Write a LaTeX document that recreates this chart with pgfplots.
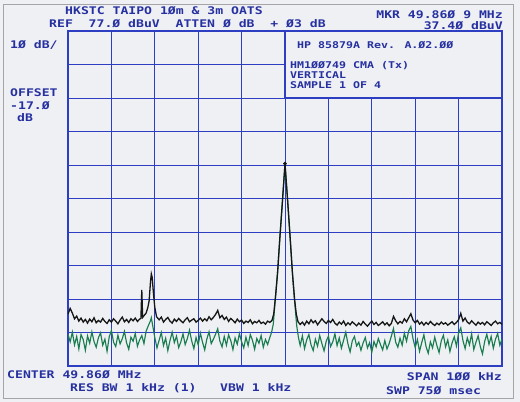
\documentclass[border=0pt]{standalone}
\usepackage{pgfplots}
\pgfplotsset{compat=1.18}
\usepackage{fontspec}
\newfontfamily\prt{DejaVu Sans Mono}[FakeStretch=1.25]

\definecolor{paper}{RGB}{238,240,243}
\definecolor{edge}{RGB}{165,165,168}
\definecolor{gridblue}{RGB}{45,62,195}
\definecolor{inkblue}{RGB}{38,48,160}
\definecolor{trgreen}{RGB}{25,125,80}
\definecolor{trblack}{RGB}{22,22,22}

\begin{document}
\begin{tikzpicture}[x=1pt,y=1pt,
  lbl/.style={anchor=base west,inner sep=0pt,text=inkblue,font=\prt\bfseries\fontsize{10.5}{12}\selectfont},
  lblr/.style={lbl,anchor=base east},
  lbls/.style={lbl,font=\prt\bfseries\fontsize{9.3}{11}\selectfont}]

\fill[paper] (0,0) rectangle (520,402);
\draw[edge,line width=0.8pt] (3,4) rectangle (513,398);

\begin{axis}[
at={(68pt,36pt)}, anchor=south west,
scale only axis, width=434pt, height=335pt,
xmin=-50, xmax=50, ymin=-23, ymax=77,
xtick={-50,-40,...,50}, ytick={-23,-13,...,77},
xticklabels={}, yticklabels={},
major tick length=0pt,
grid=major,
grid style={gridblue, line width=0.95pt},
axis line style={gridblue, line width=1.2pt},
clip=true
]
% green trace (lower)
\addplot[trgreen, line width=1.15pt] coordinates {
(-50,-13.5) (-49.5,-15.8) (-49,-12.9) (-48.5,-16.7) (-48,-14.2) (-47.5,-17.9) (-47,-13.6) (-46.5,-15.1)
(-46,-18.3) (-45.5,-14.0) (-45,-16.2) (-44.5,-12.8) (-44,-15.7) (-43.5,-17.4) (-43,-14.6) (-42.5,-13.1)
(-42,-16.8) (-41.5,-15.0) (-41,-18.6) (-40.5,-14.3) (-40,-12.4) (-39.5,-15.9) (-39,-17.2) (-38.5,-13.8)
(-38,-16.4) (-37.5,-14.9) (-37,-12.7) (-36.5,-16.1) (-36,-18.0) (-35.5,-14.4) (-35,-15.6) (-34.5,-13.3)
(-34,-17.1) (-33.5,-15.2) (-33,-13.9) (-32.5,-16.3) (-32,-12.6) (-31.5,-11.0) (-31,-9.5) (-30.8,-8.6)
(-30.5,-10.8) (-30,-14.5) (-29.5,-17.6) (-29,-15.3) (-28.5,-13.0) (-28,-16.9) (-27.5,-14.7) (-27,-18.4)
(-26.5,-15.4) (-26,-12.9) (-25.5,-16.0) (-25,-14.1) (-24.5,-17.5) (-24,-15.8) (-23.5,-13.4) (-23,-16.6)
(-22.5,-14.8) (-22,-12.3) (-21.5,-15.5) (-21,-17.8) (-20.5,-14.5) (-20,-16.7) (-19.5,-13.2) (-19,-15.9)
(-18.5,-18.2) (-18,-14.9) (-17.5,-12.8) (-17,-16.3) (-16.5,-15.0) (-16,-13.5) (-15.5,-11.9) (-15,-15.6)
(-14.5,-17.3) (-14,-14.2) (-13.5,-16.8) (-13,-13.7) (-12.5,-15.4) (-12,-18.1) (-11.5,-14.6) (-11,-16.5)
(-10.5,-13.3) (-10,-15.8) (-9.5,-17.6) (-9,-14.4) (-8.5,-16.9) (-8,-13.6) (-7.5,-15.3) (-7,-18.0)
(-6.5,-14.8) (-6,-16.2) (-5.5,-13.9) (-5,-17.4) (-4.5,-15.1) (-4,-16.6) (-3.5,-14.5) (-3.1,-13.0)
(-2.7,-10.5) (-2.3,-4) (-1.8,3.5) (-1.2,15) (-0.6,26) (0,37.4) (0.6,26.5) (1.2,15) (1.8,3) (2.3,-5)
(2.7,-11) (3.1,-14.5)
(3.5,-16.9) (4,-14.0) (4.5,-17.8) (5,-15.2) (5.5,-13.6) (6,-16.7) (6.5,-18.4) (7,-15.0)
(7.5,-17.1) (8,-13.9) (8.5,-16.3) (9,-18.5) (9.5,-15.6) (10,-14.1) (10.5,-17.2) (11,-15.8)
(11.5,-13.4) (12,-16.9) (12.5,-14.6) (13,-17.7) (13.5,-15.3) (14,-12.9) (14.5,-16.4) (15,-18.8)
(15.5,-15.5) (16,-14.2) (16.5,-17.0) (17,-15.9) (17.5,-18.3) (18,-16.1) (18.5,-14.5) (19,-17.6)
(19.5,-16.0) (20,-18.9) (20.5,-15.7) (21,-17.3) (21.5,-14.8) (22,-16.6) (22.5,-18.2) (23,-15.4)
(23.5,-17.9) (24,-16.3) (24.5,-14.1) (25,-11.8) (25.5,-15.9) (26,-17.4) (26.5,-14.7) (27,-16.8)
(27.5,-13.2) (28,-15.6) (28.5,-12.5) (29,-11.2) (29.5,-14.9) (30,-17.5) (30.5,-15.1) (31,-18.6)
(31.5,-16.0) (32,-13.7) (32.5,-17.2) (33,-19.2) (33.5,-15.8) (34,-17.6) (34.5,-14.4) (35,-16.9)
(35.5,-19.0) (36,-15.5) (36.5,-13.8) (37,-17.3) (37.5,-15.2) (38,-18.7) (38.5,-16.1) (39,-14.3)
(39.5,-17.0) (40,-13.1) (40.5,-11.6) (41,-15.4) (41.5,-17.8) (42,-14.6) (42.5,-16.7) (43,-13.4)
(43.5,-18.1) (44,-15.9) (44.5,-14.0) (45,-17.2) (45.5,-19.4) (46,-15.7) (46.5,-13.5) (47,-16.5)
(47.5,-14.2) (48,-17.7) (48.5,-15.0) (49,-13.3) (49.5,-16.8) (50,-14.9)
};
% black trace (upper)
\addplot[trblack, line width=1.3pt] coordinates {
(-50,-7.5) (-49.5,-5.8) (-49,-7.2) (-48.5,-8.9) (-48,-8.1) (-47.5,-9.6) (-47,-8.7) (-46.5,-9.9)
(-46,-9.1) (-45.5,-10.2) (-45,-9.0) (-44.5,-9.8) (-44,-8.6) (-43.5,-10.1) (-43,-9.4) (-42.5,-9.9)
(-42,-8.8) (-41.5,-9.7) (-41,-10.3) (-40.5,-9.2) (-40,-9.9) (-39.5,-8.9) (-39,-9.6) (-38.5,-10.4)
(-38,-9.3) (-37.5,-8.4) (-37,-9.8) (-36.5,-9.1) (-36,-10.0) (-35.5,-8.9) (-35,-9.5) (-34.5,-8.7)
(-34,-9.7) (-33.5,-9.0) (-33.2,-8.8) (-33,-0.3) (-32.8,-8.5) (-32.5,-8.0) (-32,-7.2) (-31.6,-5.5)
(-31.3,-3.5) (-31,2.0) (-30.8,4.5) (-30.6,3.5) (-30.3,-1.5) (-30,-5.5) (-29.6,-8.3) (-29,-9.2)
(-28.5,-8.4) (-28,-9.9) (-27.5,-9.1) (-27,-8.5) (-26.5,-9.6) (-26,-10.2) (-25.5,-9.0) (-25,-9.7)
(-24.5,-8.8) (-24,-9.5) (-23.5,-10.1) (-23,-9.2) (-22.5,-8.6) (-22,-9.8) (-21.5,-9.3) (-21,-8.9)
(-20.5,-9.9) (-20,-9.4) (-19.5,-8.7) (-19,-9.6) (-18.5,-8.9) (-18,-9.5) (-17.5,-8.3) (-17,-9.2)
(-16.5,-8.5) (-16,-7.6) (-15.5,-6.4) (-15,-8.6) (-14.5,-7.9) (-14,-9.1) (-13.5,-8.4) (-13,-9.7)
(-12.5,-8.8) (-12,-9.4) (-11.5,-10.1) (-11,-9.0) (-10.5,-9.8) (-10,-9.3) (-9.5,-10.3) (-9,-9.6)
(-8.5,-10.0) (-8,-9.2) (-7.5,-10.4) (-7,-9.7) (-6.5,-10.1) (-6,-9.4) (-5.5,-10.3) (-5,-9.9)
(-4.5,-10.5) (-4,-9.6) (-3.5,-10.0) (-3,-9.4)
(-2.6,-7.5) (-2.2,-2.5) (-1.7,5) (-1.2,15) (-0.6,26) (0,37.4) (0.6,26.5) (1.2,15) (1.7,5) (2.2,-3)
(2.6,-7.5) (3,-9.8)
(3.5,-10.6) (4,-9.9) (4.5,-10.8) (5,-9.6) (5.5,-10.4) (6,-9.2) (6.5,-10.1) (7,-9.5)
(7.5,-10.7) (8,-9.8) (8.5,-8.9) (9,-9.7) (9.5,-10.3) (10,-9.4) (10.5,-10.0) (11,-9.1)
(11.5,-10.2) (12,-10.8) (12.5,-9.9) (13,-10.5) (13.5,-9.6) (14,-10.9) (14.5,-10.1) (15,-10.7)
(15.5,-9.8) (16,-10.4) (16.5,-11.0) (17,-10.2) (17.5,-10.8) (18,-9.7) (18.5,-10.5) (19,-11.1)
(19.5,-10.3) (20,-9.6) (20.5,-10.6) (21,-10.0) (21.5,-10.9) (22,-10.4) (22.5,-9.8) (23,-10.7)
(23.5,-10.1) (24,-11.0) (24.5,-10.3) (25,-8.2) (25.5,-9.5) (26,-10.4) (26.5,-9.7) (27,-10.2)
(27.5,-8.9) (28,-9.8) (28.5,-8.6) (29,-7.4) (29.5,-9.3) (30,-10.1) (30.5,-9.4) (31,-10.5)
(31.5,-9.9) (32,-10.8) (32.5,-10.0) (33,-10.6) (33.5,-9.7) (34,-10.4) (34.5,-10.9) (35,-10.2)
(35.5,-10.7) (36,-9.9) (36.5,-10.5) (37,-10.1) (37.5,-10.8) (38,-10.3) (38.5,-9.8) (39,-10.6)
(39.5,-10.0) (40,-9.2) (40.5,-7.3) (41,-9.6) (41.5,-8.7) (42,-9.9) (42.5,-10.4) (43,-9.5)
(43.5,-10.2) (44,-10.8) (44.5,-9.9) (45,-10.5) (45.5,-10.0) (46,-10.7) (46.5,-9.8) (47,-10.3)
(47.5,-10.9) (48,-10.1) (48.5,-9.6) (49,-10.4) (49.5,-10.0) (50,-10.6)
};
% marker at the peak
\addplot[only marks, mark=*, mark size=1.7pt, trblack] coordinates {(0,37.4)};

% annotation box in the top right corner of the graticule
\fill[paper] (axis cs:0,57) rectangle (axis cs:50,77);
\draw[gridblue, line width=1.1pt] (axis cs:0,77) -- (axis cs:0,57) -- (axis cs:50,57) -- (axis cs:50,77) -- cycle;
\end{axis}

% header
\node[lbl] at (65,387) {HKSTC TAIPO 1Øm \& 3m OATS};
\node[lbl] at (49,374) {REF~~77.Ø dBuV~~ATTEN Ø dB~~+ Ø3 dB};
\node[lblr] at (503,383) {MKR 49.86Ø 9 MHz};
\node[lblr] at (503,372) {37.4Ø dBuV};

% left column
\node[lbl] at (10,353) {1Ø dB/};
\node[lbl] at (10,305) {OFFSET};
\node[lbl] at (10,292) {-17.Ø};
\node[lbl] at (17,280) {dB};

% box text
\node[lbls] at (297,353) {HP 85879A Rev. A.Ø2.ØØ};
\node[lbls] at (290,333) {HM1ØØ749 CMA (Tx)};
\node[lbls] at (290,323) {VERTICAL};
\node[lbls] at (290,313) {SAMPLE 1 OF 4};

% footer
\node[lbl] at (7,23) {CENTER 49.86Ø MHz};
\node[lbl] at (70,10) {RES BW 1 kHz (1)};
\node[lbl] at (220,10) {VBW 1 kHz};
\node[lblr] at (502,21) {SPAN 1ØØ kHz};
\node[lbl] at (386,7) {SWP 75Ø msec};

\pgfresetboundingbox
\useasboundingbox (0,0) rectangle (520,402);
\end{tikzpicture}
\end{document}
